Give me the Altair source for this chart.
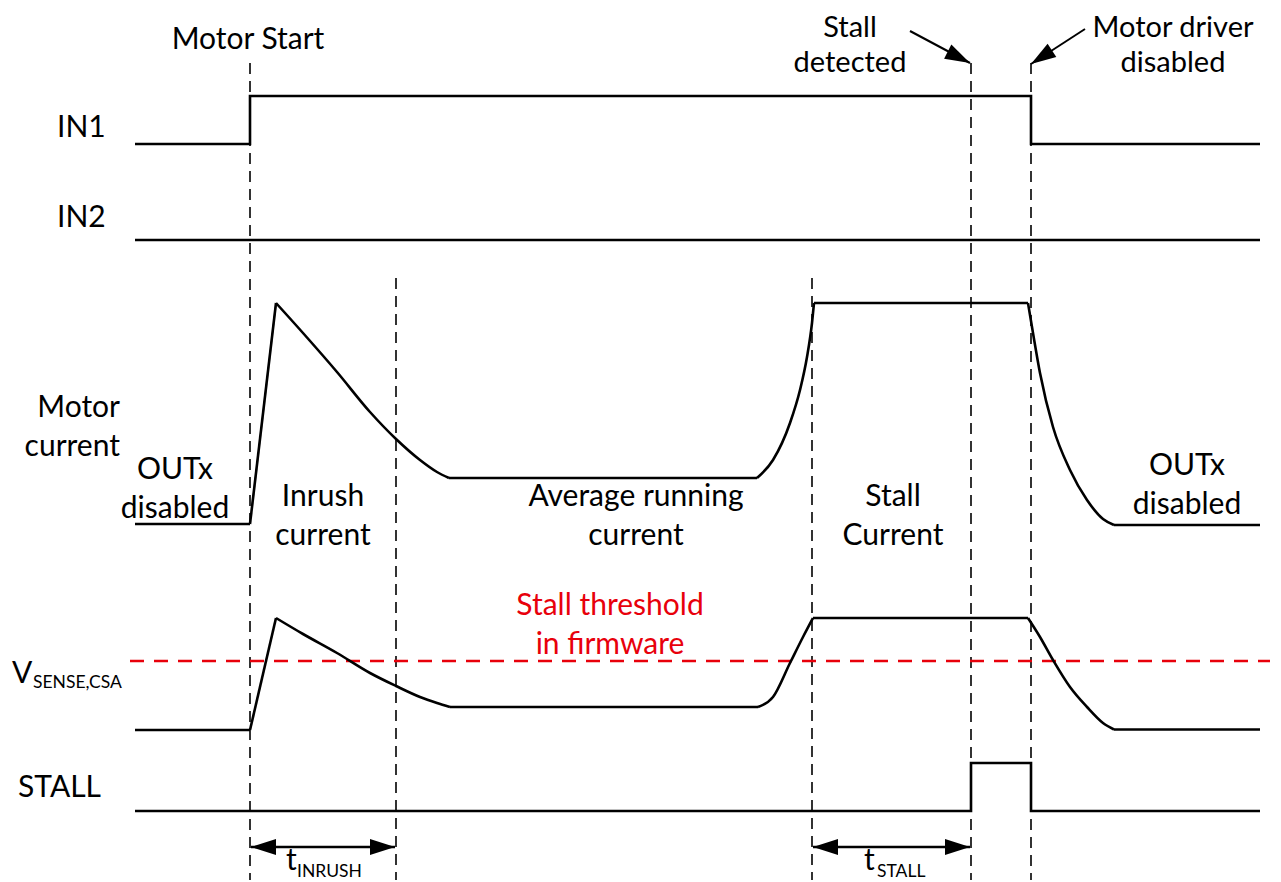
import altair as alt
import pandas as pd

# ---------------- data ----------------
# event instants (time axis) and where their dashed markers start
EVENT_T = [250, 396, 812, 971, 1031]
EVENT_TOP = [63, 278, 278, 63, 63]
EVENT_BOTTOM = 880

# digital traces: time, level
IN1_T = [135, 250, 250, 1031, 1031, 1260]
IN1_L = [144, 144, 96, 96, 144, 144]
IN2_T = [135, 1260]
IN2_L = [240, 240]
STALL_T = [135, 971, 971, 1031, 1031, 1260]
STALL_L = [811, 811, 763, 763, 811, 811]

# motor current trace, piecewise
CUR_SEGMENTS = {
    "base": ([135, 250], [524, 524]),
    "rise": ([250, 276], [524, 303]),
    "decay": ([276, 303, 337, 370, 396, 420, 437, 449], [303, 333, 372, 412, 439, 460, 472, 478]),
    "run": ([449, 757], [478, 478]),
    "rise2": ([757, 773, 790, 800, 807, 812, 814], [478, 460, 423, 390, 357, 323, 303]),
    "stall": ([814, 1028], [303, 303]),
    "decay2": ([1028, 1033, 1040, 1053, 1070, 1087, 1103, 1114], [303, 333, 373, 427, 470, 500, 519, 525]),
    "off": ([1114, 1260], [525, 525]),
}
# current-sense voltage trace, piecewise
VS_SEGMENTS = {
    "base": ([135, 250], [730, 730]),
    "rise": ([250, 276], [730, 618]),
    "decay": ([276, 303, 337, 370, 396, 420, 437, 450], [618, 634, 653, 673, 686, 697, 703, 707]),
    "run": ([450, 758], [707, 707]),
    "rise2": ([758, 773, 790, 803, 813], [707, 697, 663, 637, 618]),
    "stall": ([813, 1028], [618, 618]),
    "decay2": ([1028, 1040, 1053, 1070, 1087, 1103, 1114], [618, 637, 660, 687, 707, 723, 729.5]),
    "off": ([1114, 1260], [729.5, 729.5]),
}
LINEAR_SEGS = ["base", "rise", "run", "stall", "off"]

# firmware stall threshold
THRESH_LEVEL = 661
THRESH_T = [130, 1270]

# dimension arrows (t_INRUSH, t_STALL)
DIM_LEVEL = 847
DIM_T0 = [251, 813]
DIM_T1 = [395, 970]

# callout arrows: start (x, y) -> tip (x, y)
CALLOUT_START = [(910, 31), (1085, 29)]
CALLOUT_TIP = [(970, 63), (1031, 64)]
CALLOUT_ANGLE = [117, 237]

# text labels: (text, x, y)
CENTER_LABELS = [
    ("Motor Start", 248, 49),
    ("OUTx\ndisabled", 175, 479),
    ("Inrush\ncurrent", 323, 506),
    ("Average running\ncurrent", 636, 506),
    ("Stall\nCurrent", 893, 506),
    ("OUTx\ndisabled", 1187, 475),
]
TOP_LABELS = [("Stall\ndetected", 850, 37), ("Motor driver\ndisabled", 1173, 37)]
RED_LABELS = [("Stall threshold\nin firmware", 610, 615)]
LEFT_LABELS = [("IN1", 57, 137), ("IN2", 57, 227), ("STALL", 18, 797)]
RIGHT_LABELS = [("Motor\ncurrent", 120, 417)]
MAIN_SYM = [("V", 12, 683), ("t", 286, 870), ("t", 864, 870)]
SUB_SYM = [("SENSE,CSA", 33, 688), ("INRUSH", 297, 877), ("STALL", 877, 877)]

# ---------------- build tables ----------------
FONT = "Lato"
FS = 30
RED = "#e8000b"

xs = alt.Scale(domain=[8, 1273], nice=False, zero=False)
ys = alt.Scale(domain=[8, 882], nice=False, zero=False, reverse=True)
X = lambda f="x": alt.X(f"{f}:Q", scale=xs, axis=None)
Y = lambda f="y": alt.Y(f"{f}:Q", scale=ys, axis=None)

rows_lin, rows_mono = [], []
for name, (t, l) in [("IN1", (IN1_T, IN1_L)), ("IN2", (IN2_T, IN2_L)), ("STALL", (STALL_T, STALL_L))]:
    for i, (a, b) in enumerate(zip(t, l)):
        rows_lin.append({"g": name, "o": i, "x": a, "y": b})
for trace, segs in [("I", CUR_SEGMENTS), ("V", VS_SEGMENTS)]:
    for seg, (t, l) in segs.items():
        target = rows_lin if seg in LINEAR_SEGS else rows_mono
        for i, (a, b) in enumerate(zip(t, l)):
            target.append({"g": f"{trace}-{seg}", "o": i, "x": a, "y": b})
lin_df = pd.DataFrame(rows_lin)
mono_df = pd.DataFrame(rows_mono)

lin = alt.Chart(lin_df).mark_line(color="black", strokeWidth=2.6, strokeJoin="miter").encode(
    x=X(), y=Y(), detail="g:N", order="o:Q")
mono = alt.Chart(mono_df).mark_line(color="black", strokeWidth=2.6, interpolate="monotone").encode(
    x=X(), y=Y(), detail="g:N", order="o:Q")

ev_df = pd.DataFrame({"x": EVENT_T, "y": EVENT_TOP, "y2": [EVENT_BOTTOM] * len(EVENT_T)})
events = alt.Chart(ev_df).mark_rule(color="black", strokeWidth=1.6, strokeDash=[11, 7]).encode(
    x=X(), y=Y(), y2="y2:Q")

th_df = pd.DataFrame({"x": [THRESH_T[0]], "x2": [THRESH_T[1]], "y": [THRESH_LEVEL]})
thresh = alt.Chart(th_df).mark_rule(color=RED, strokeWidth=2.4, strokeDash=[14, 10]).encode(
    x=X(), x2="x2:Q", y=Y())

dim_df = pd.DataFrame({"x": DIM_T0, "x2": DIM_T1, "y": [DIM_LEVEL] * 2})
dims = alt.Chart(dim_df).mark_rule(color="black", strokeWidth=2.4).encode(x=X(), x2="x2:Q", y=Y())

co_df = pd.DataFrame({"x": [s[0] for s in CALLOUT_START], "y": [s[1] for s in CALLOUT_START],
                      "x2": [t[0] for t in CALLOUT_TIP], "y2": [t[1] for t in CALLOUT_TIP]})
callouts = alt.Chart(co_df).mark_rule(color="black", strokeWidth=2).encode(
    x=X(), y=Y(), x2="x2:Q", y2="y2:Q")

heads = []
for t0, t1 in zip(DIM_T0, DIM_T1):
    heads.append({"x": t0, "y": DIM_LEVEL, "a": 270})
    heads.append({"x": t1, "y": DIM_LEVEL, "a": 90})
for tip, ang in zip(CALLOUT_TIP, CALLOUT_ANGLE):
    heads.append({"x": tip[0], "y": tip[1], "a": ang})
head_df = pd.DataFrame(heads)
arrowheads = alt.Chart(head_df).mark_point(
    shape="M0,0L-0.32,1L0.32,1Z", filled=True, color="black", opacity=1, size=2500, strokeWidth=0
).encode(x=X(), y=Y(), angle=alt.Angle("a:Q", scale=None))


def text_layer(items, align, color="black", size=FS, lh=39):
    df = pd.DataFrame(items, columns=["text", "x", "y"])
    return alt.Chart(df).mark_text(
        align=align, baseline="alphabetic", font=FONT, fontSize=size, color=color,
        lineBreak="\n", lineHeight=lh
    ).encode(x=X(), y=Y(), text="text:N")


texts = [
    text_layer(CENTER_LABELS, "center"),
    text_layer(TOP_LABELS, "center", size=29, lh=35),
    text_layer(RED_LABELS, "center", color=RED),
    text_layer(LEFT_LABELS, "left"),
    text_layer(RIGHT_LABELS, "right"),
    text_layer(MAIN_SYM, "left", size=30),
    text_layer(SUB_SYM, "left", size=17.5),
]

chart = alt.layer(events, thresh, lin, mono, dims, callouts, arrowheads, *texts).properties(
    width=1265, height=874, padding=0, autosize="none", background="white"
).configure_view(stroke=None)

chart.save("out.html", embed_options={"renderer": "svg", "actions": False})
